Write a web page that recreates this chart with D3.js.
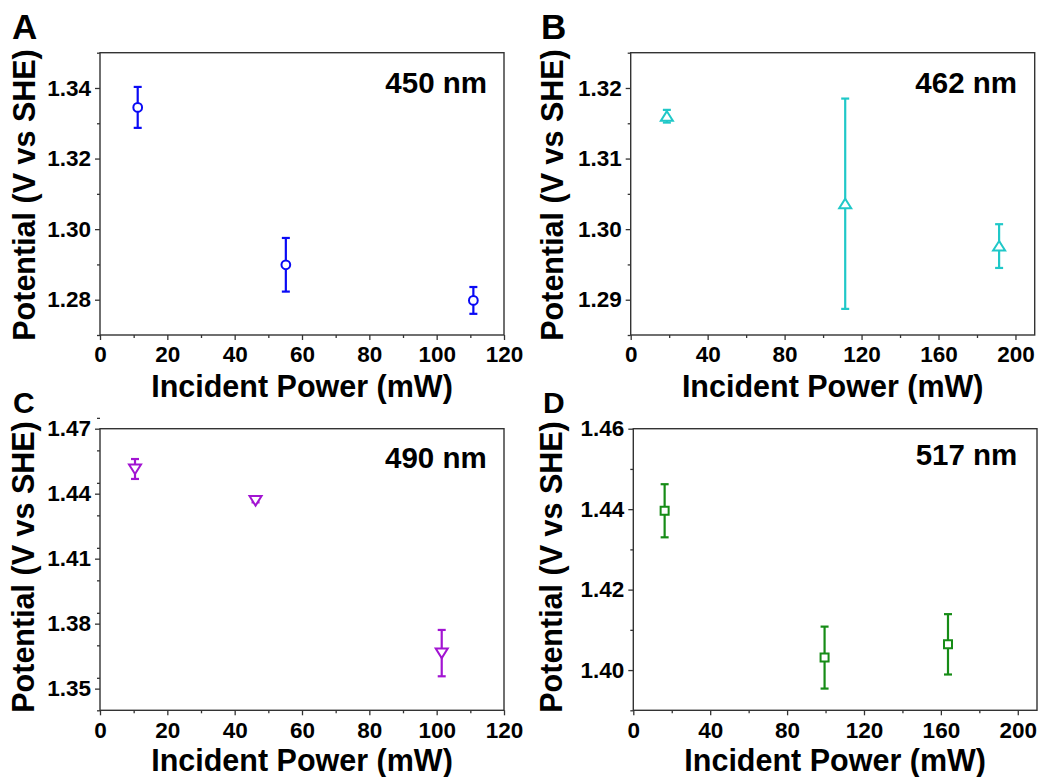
<!DOCTYPE html>
<html>
<head>
<meta charset="utf-8">
<script src="https://cdn.jsdelivr.net/npm/d3@7"></script>
<style>
  body { margin: 0; background: #fff; }
  text { font-family: "Liberation Sans", Arial, sans-serif; font-weight: bold; fill: #000; }
</style>
</head>
<body>
<svg></svg>
<script>
var width  = 1038,
    height = 777;

// A - 450 nm
var powerA   = [11.2, 55.2, 110.9],
    potA     = [1.3345, 1.2899, 1.2798],
    errA     = [0.0058, 0.0076, 0.0038],
    xDomainA = [0, 120],
    yDomainA = [1.27, 1.35],
    xTicksA  = [0, 20, 40, 60, 80, 100, 120],
    yTicksA  = [1.28, 1.30, 1.32, 1.34];

// B - 462 nm
var powerB   = [18.8, 111.5, 191.5],
    potB     = [1.3160, 1.3036, 1.2976],
    errB     = [0.0009, 0.0149, 0.0031],
    xDomainB = [0, 210],
    yDomainB = [1.285, 1.325],
    xTicksB  = [0, 40, 80, 120, 160, 200],
    yTicksB  = [1.29, 1.30, 1.31, 1.32];

// C - 490 nm
var powerC   = [10.4, 46.2, 101.5],
    potC     = [1.4514, 1.4368, 1.3664],
    errC     = [0.0046, 0.0008, 0.0107],
    xDomainC = [0, 120],
    yDomainC = [1.34, 1.47],
    xTicksC  = [0, 20, 40, 60, 80, 100, 120],
    yTicksC  = [1.35, 1.38, 1.41, 1.44, 1.47];

// D - 517 nm
var powerD   = [16.3, 99.5, 163.7],
    potD     = [1.4396, 1.4031, 1.4064],
    errD     = [0.0066, 0.0077, 0.0075],
    xDomainD = [0, 210],
    yDomainD = [1.39, 1.46],
    xTicksD  = [0, 40, 80, 120, 160, 200],
    yTicksD  = [1.40, 1.42, 1.44, 1.46];

var panels = [
  { letter: 'A', label: '450 nm', color: '#0a0af5', shape: 'circle',
    power: powerA, pot: potA, err: errA, xDomain: xDomainA, yDomain: yDomainA,
    xTicks: xTicksA, yTicks: yTicksA, xMinor: 10, yMinor: 0.01,
    box: [100, 52.7, 504, 335], letterPos: [12, 39, 35], yTitleX: 34.5, yTitleY: 195,
    xTitleY: 397, labelPos: [487, 92.7] },
  { letter: 'B', label: '462 nm', color: '#20c8c8', shape: 'up',
    power: powerB, pot: potB, err: errB, xDomain: xDomainB, yDomain: yDomainB,
    xTicks: xTicksB, yTicks: yTicksB, xMinor: 20, yMinor: 0.005,
    box: [630.7, 52.7, 1034.7, 335], letterPos: [541, 39, 35], yTitleX: 563, yTitleY: 195,
    xTitleY: 397, labelPos: [1017, 92.7] },
  { letter: 'C', label: '490 nm', color: '#a214d2', shape: 'down',
    power: powerC, pot: potC, err: errC, xDomain: xDomainC, yDomain: yDomainC,
    xTicks: xTicksC, yTicks: yTicksC, xMinor: 10, yMinor: 0.015,
    box: [100, 428.7, 504, 710.3], letterPos: [13, 413, 30], yTitleX: 34.3, yTitleY: 567,
    xTitleY: 771, labelPos: [486.7, 468] },
  { letter: 'D', label: '517 nm', color: '#168c16', shape: 'square',
    power: powerD, pot: potD, err: errD, xDomain: xDomainD, yDomain: yDomainD,
    xTicks: xTicksD, yTicks: yTicksD, xMinor: 20, yMinor: 0.01,
    box: [633.3, 428.7, 1037, 710.3], letterPos: [543, 413, 30], yTitleX: 562.3, yTitleY: 567,
    xTitleY: 771, labelPos: [1017.3, 465.3] }
];

var svg = d3.select('svg')
  .attr('width', width)
  .attr('height', height);

function minorTicks(domain, step, majors) {
  var out = [];
  var n = Math.round((domain[1] - domain[0]) / step);
  for (var i = 0; i <= n; i++) {
    var v = +(domain[0] + i * step).toFixed(5);
    if (!majors.some(function(m) { return Math.abs(m - v) < 1e-6; })) out.push(v);
  }
  return out;
}

function markerPath(shape) {
  if (shape == 'circle') return d3.symbol().type(d3.symbolCircle).size(60)();
  if (shape == 'square') return 'M-4,-4H4V4H-4Z';
  if (shape == 'up') return 'M0,-5L6,4.5H-6Z';
  return 'M0,5L6,-4.5H-6Z';
}

function styleAxis(sel) {
  sel.select('.domain').remove();
  sel.selectAll('.tick line').attr('stroke', '#333').attr('stroke-width', 1.3);
  sel.selectAll('.tick text')
    .style('font-family', '"Liberation Sans", Arial, sans-serif')
    .style('font-weight', 'bold')
    .style('font-size', '22.5px')
    .attr('fill', '#000');
}

function drawPanel(p) {
  var x0 = p.box[0], y0 = p.box[1], x1 = p.box[2], y1 = p.box[3];
  var x = d3.scaleLinear().domain(p.xDomain).range([x0, x1]);
  var y = d3.scaleLinear().domain(p.yDomain).range([y1, y0]);
  var g = svg.append('g');

  // minor ticks
  g.append('g')
    .attr('transform', 'translate(0,' + y1 + ')')
    .call(d3.axisBottom(x).tickValues(minorTicks(p.xDomain, p.xMinor, p.xTicks)).tickSize(3).tickFormat(''))
    .call(styleAxis);
  g.append('g')
    .attr('transform', 'translate(' + x0 + ',0)')
    .call(d3.axisLeft(y).tickValues(minorTicks(p.yDomain, p.yMinor, p.yTicks)).tickSize(3).tickFormat(''))
    .call(styleAxis);

  // major ticks
  g.append('g')
    .attr('transform', 'translate(0,' + y1 + ')')
    .call(d3.axisBottom(x).tickValues(p.xTicks).tickSize(5).tickPadding(6.5).tickFormat(d3.format('d')))
    .call(styleAxis);
  g.append('g')
    .attr('transform', 'translate(' + x0 + ',0)')
    .call(d3.axisLeft(y).tickValues(p.yTicks).tickSize(5).tickPadding(4).tickFormat(d3.format('.2f')))
    .call(styleAxis);

  // frame
  g.append('rect')
    .attr('x', x0).attr('y', y0)
    .attr('width', x1 - x0).attr('height', y1 - y0)
    .attr('fill', 'none')
    .attr('stroke', '#333')
    .attr('stroke-width', 1.4);

  var pts = p.power.map(function(d, i) { return { x: d, y: p.pot[i], e: p.err[i] }; });

  var bars = g.selectAll('.bar')
    .data(pts)
    .enter().append('g')
      .attr('stroke', p.color)
      .attr('stroke-width', 2.2)
      .attr('fill', 'none');
  bars.append('line')
    .attr('x1', function(d) { return x(d.x); })
    .attr('x2', function(d) { return x(d.x); })
    .attr('y1', function(d) { return y(d.y + d.e); })
    .attr('y2', function(d) { return y(d.y - d.e); });
  bars.append('line')
    .attr('x1', function(d) { return x(d.x) - 4; })
    .attr('x2', function(d) { return x(d.x) + 4; })
    .attr('y1', function(d) { return y(d.y + d.e); })
    .attr('y2', function(d) { return y(d.y + d.e); });
  bars.append('line')
    .attr('x1', function(d) { return x(d.x) - 4; })
    .attr('x2', function(d) { return x(d.x) + 4; })
    .attr('y1', function(d) { return y(d.y - d.e); })
    .attr('y2', function(d) { return y(d.y - d.e); });

  g.selectAll('.dot')
    .data(pts)
    .enter().append('path')
      .attr('d', markerPath(p.shape))
      .attr('transform', function(d) { return 'translate(' + x(d.x) + ',' + y(d.y) + ')'; })
      .attr('fill', '#fff')
      .attr('stroke', p.color)
      .attr('stroke-width', 2);

  // texts
  g.append('text')
    .attr('x', p.labelPos[0]).attr('y', p.labelPos[1])
    .attr('text-anchor', 'end')
    .style('font-size', '29.5px')
    .text(p.label);

  g.append('text')
    .attr('x', (x0 + x1) / 2).attr('y', p.xTitleY)
    .attr('text-anchor', 'middle')
    .style('font-size', '30.5px')
    .text('Incident Power (mW)');

  g.append('text')
    .attr('transform', 'translate(' + p.yTitleX + ',' + p.yTitleY + ') rotate(-90)')
    .attr('text-anchor', 'middle')
    .style('font-size', '30.5px')
    .text('Potential (V vs SHE)');

  g.append('text')
    .attr('x', p.letterPos[0]).attr('y', p.letterPos[1])
    .style('font-size', p.letterPos[2] + 'px')
    .text(p.letter);
}

panels.forEach(drawPanel);
</script>
</body>
</html>
